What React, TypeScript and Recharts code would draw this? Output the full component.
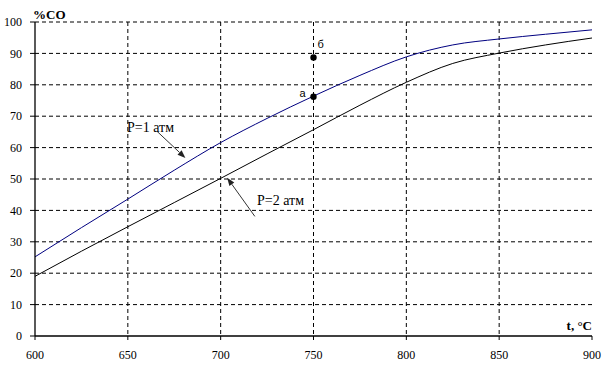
import React from 'react';
import { ComposedChart, Line, XAxis, YAxis, CartesianGrid, ReferenceDot, ReferenceLine, Label } from 'recharts';

const temperatures = [600, 625, 650, 675, 700, 725, 750, 775, 800, 825, 850, 875, 900];
const co1atm = [25.2, 34.5, 43.6, 52.8, 61.6, 69.3, 76.4, 83.0, 88.9, 92.7, 94.6, 96.1, 97.5];
const co2atm = [19.0, 27.0, 34.8, 42.5, 50.2, 58.0, 65.7, 73.5, 80.8, 86.8, 90.1, 92.7, 94.9];
const xTicks = [600, 650, 700, 750, 800, 850, 900];
const yTicks = [0, 10, 20, 30, 40, 50, 60, 70, 80, 90, 100];
const gridX = [650, 700, 750, 800, 850];
const gridY = [10, 20, 30, 40, 50, 60, 70, 80, 90, 100];
const pointT = [750, 750];
const pointV = [76.2, 88.7];
const pointNames = ['а', 'б'];
const arrowLabels = ['P=1 атм', 'P=2 атм'];
const arrowTextT = [649.6, 719.6];
const arrowTextV = [64.9, 41.6];
const arrowFromT = [665.7, 718.4];
const arrowFromV = [65.2, 38.1];
const arrowToT = [681.0, 703.5];
const arrowToV = [56.7, 50.4];

const data = temperatures.map((t, i) => ({ t, p1: co1atm[i], p2: co2atm[i] }));

const serif = '"Liberation Serif", "Times New Roman", serif';
const sans = '"Liberation Sans", Arial, sans-serif';

const ArrowShape = (props: any) => {
  const { x1, y1, x2, y2 } = props;
  const dx = x2 - x1;
  const dy = y2 - y1;
  const len = Math.sqrt(dx * dx + dy * dy) || 1;
  const ux = dx / len;
  const uy = dy / len;
  const hl = 8;
  const hw = 3;
  const bx = x2 - ux * hl;
  const by = y2 - uy * hl;
  const pts = `${x2},${y2} ${bx - uy * hw},${by + ux * hw} ${bx + uy * hw},${by - ux * hw}`;
  return (
    <g>
      <line x1={x1} y1={y1} x2={bx} y2={by} stroke="#333" strokeWidth={1} />
      <polygon points={pts} fill="#222" />
    </g>
  );
};

export default function App() {
  return (
    <div style={{ position: 'absolute', left: 0, top: 0 }}>
      <ComposedChart width={607} height={374} data={data} margin={{ top: 22, right: 15, left: 0, bottom: 0 }}>
        <CartesianGrid
          stroke="#000"
          strokeDasharray="4 3"
          horizontalValues={gridY}
          verticalValues={gridX}
        />
        <XAxis
          dataKey="t"
          type="number"
          domain={[600, 900]}
          ticks={xTicks}
          height={38}
          stroke="#000"
          tickSize={4}
          tickMargin={10}
          tick={{ fill: '#000', fontSize: 12, fontFamily: serif }}
          axisLine={{ stroke: '#000', strokeWidth: 1.3 }}
          tickLine={{ stroke: '#000' }}
        >
          <Label
            content={(p: any) => {
              const vb = p.viewBox;
              return (
                <text x={vb.x + vb.width} y={vb.y - 6} textAnchor="end" fontFamily={serif} fontWeight="bold" fontSize={13} fill="#000">
                  t, °C
                </text>
              );
            }}
          />
        </XAxis>
        <YAxis
          type="number"
          domain={[0, 100]}
          ticks={yTicks}
          width={35}
          stroke="#000"
          tickSize={5}
          tickMargin={8}
          tick={{ fill: '#000', fontSize: 12, fontFamily: serif }}
          axisLine={{ stroke: '#000', strokeWidth: 1.3 }}
          tickLine={{ stroke: '#000' }}
        >
          <Label
            content={(p: any) => {
              const vb = p.viewBox;
              return (
                <text x={vb.x + vb.width - 2} y={vb.y - 3} textAnchor="start" fontFamily={serif} fontWeight="bold" fontSize={13} fill="#000">
                  %CO
                </text>
              );
            }}
          />
        </YAxis>
        <Line type="monotone" dataKey="p1" stroke="#000080" strokeWidth={1} dot={false} isAnimationActive={false} />
        <Line type="monotone" dataKey="p2" stroke="#000" strokeWidth={1} dot={false} isAnimationActive={false} />
        {arrowLabels.map((lab, i) => (
          <ReferenceLine
            key={'a' + i}
            segment={[{ x: arrowFromT[i], y: arrowFromV[i] }, { x: arrowToT[i], y: arrowToV[i] }]}
            shape={ArrowShape}
            ifOverflow="visible"
          />
        ))}
        {arrowLabels.map((lab, i) => (
          <ReferenceDot
            key={'t' + i}
            x={arrowTextT[i]}
            y={arrowTextV[i]}
            r={0}
            ifOverflow="visible"
            shape={(p: any) => (
              <text x={p.cx} y={p.cy} fontFamily={serif} fontSize={14} fill="#000">
                {lab}
              </text>
            )}
          />
        ))}
        {pointNames.map((nm, i) => (
          <ReferenceDot
            key={'p' + i}
            x={pointT[i]}
            y={pointV[i]}
            r={3}
            ifOverflow="visible"
            shape={(p: any) => (
              <g>
                <circle cx={p.cx} cy={p.cy} r={3.2} fill="#000" />
                <text
                  x={i === 0 ? p.cx - 8 : p.cx + 4}
                  y={i === 0 ? p.cy : p.cy - 9}
                  textAnchor={i === 0 ? 'end' : 'start'}
                  fontFamily={sans}
                  fontSize={11}
                  fill="#000"
                >
                  {nm}
                </text>
              </g>
            )}
          />
        ))}
      </ComposedChart>
    </div>
  );
}
